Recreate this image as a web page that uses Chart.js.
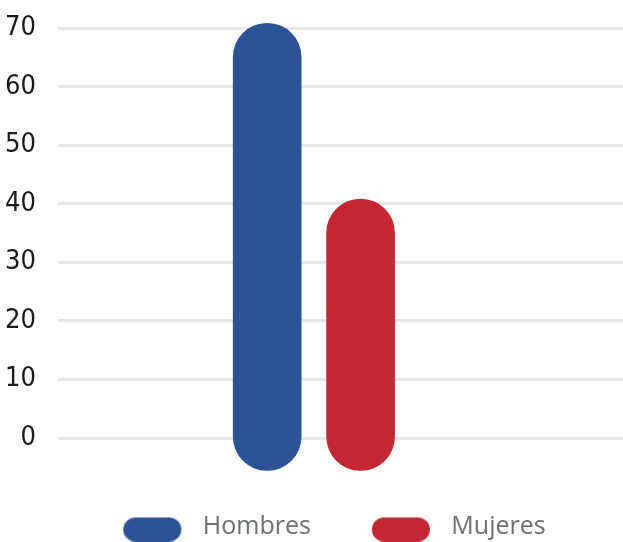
<!DOCTYPE html>
<html><head><meta charset="utf-8">
<script src="https://cdn.jsdelivr.net/npm/chart.js@4/dist/chart.umd.min.js"></script>
<style>html,body{margin:0;padding:0;overflow:hidden;background:#fff}#wrap{width:623px;height:549px}</style>
</head><body><div id="wrap"><canvas id="c" width="623" height="549"></canvas></div>
<script>
const categories = ['Hombres', 'Mujeres'];
const values = [65, 35];
const colors = ['#2c5396', '#c42633'];
const yTickLabels = [0, 10, 20, 30, 40, 50, 60, 70];

function pillImage(color) {
  const c = document.createElement('canvas');
  c.width = 111; c.height = 30;
  const g = c.getContext('2d');
  g.fillStyle = color;
  g.beginPath();
  g.roundRect(44, 6, 58, 24, 12);
  g.fill();
  return c;
}
const pills = colors.map(pillImage);

// extend each bar by half its width on both ends so it becomes a pill with round caps
const roundCaps = {
  id: 'roundCaps',
  afterDatasetsUpdate(chart) {
    chart.data.datasets.forEach((ds, i) => {
      chart.getDatasetMeta(i).data.forEach(el => {
        const r = el.width / 2;
        el.y -= r;
        el.base += r;
      });
    });
  }
};

new Chart(document.getElementById('c'), {
  type: 'bar',
  data: {
    datasets: categories.map((name, i) => ({
      label: name,
      data: [{ x: i, y: values[i] }],
      backgroundColor: colors[i],
      borderWidth: 0,
      borderRadius: 999,
      borderSkipped: false,
      barThickness: 68,
      grouped: false,
      clip: false
    }))
  },
  options: {
    responsive: false,
    animation: false,
    events: [],
    layout: { padding: { top: 28, right: 0, bottom: 0, left: 2 } },
    scales: {
      x: {
        type: 'linear', min: -2.24, max: 3.81, offset: false,
        grid: { display: false }, border: { display: false }, ticks: { display: false },
        afterFit: s => { s.height = 59; }
      },
      y: {
        min: 0, max: 70,
        afterBuildTicks: s => { s.ticks = yTickLabels.map(v => ({ value: v })); },
        ticks: { padding: 0, color: '#1a1a1a', font: { family: "'DejaVu Sans Condensed', sans-serif", size: 27 } },
        grid: { color: '#e6e6e6', lineWidth: 3, drawTicks: true, tickLength: 22, tickColor: 'rgba(0,0,0,0)' },
        border: { display: false },
        afterFit: s => { s.width = 56; }
      }
    },
    plugins: {
      tooltip: { enabled: false },
      legend: {
        position: 'bottom', align: 'center',
        labels: {
          usePointStyle: true, pointStyleWidth: 111, boxHeight: 25, padding: 17,
          color: '#6d6e71',
          font: { family: "'Open Sans', sans-serif", size: 25 },
          generateLabels: chart => Chart.defaults.plugins.legend.labels.generateLabels(chart)
            .map((it, i) => Object.assign(it, { pointStyle: pills[i] }))
        }
      }
    }
  },
  plugins: [roundCaps]
});
</script></body></html>
